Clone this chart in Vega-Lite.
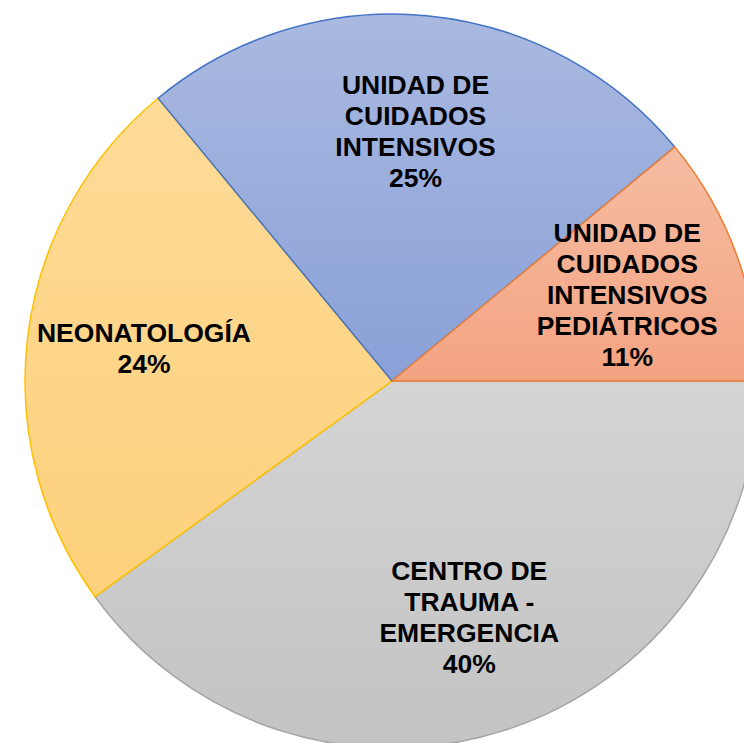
{
  "$schema": "https://vega.github.io/schema/vega-lite/v6.json",
  "width": 704,
  "height": 724,
  "autosize": {"type": "none"},
  "padding": {"left": 40, "top": 19, "right": 0, "bottom": 0},
  "background": "white",
  "view": {"stroke": null},
  "data": {
    "values": [
      {"area": "CENTRO DE\nTRAUMA -\nEMERGENCIA", "pct": 40, "orden": 1},
      {"area": "NEONATOLOGÍA", "pct": 24, "orden": 2},
      {"area": "UNIDAD DE\nCUIDADOS\nINTENSIVOS", "pct": 25, "orden": 3},
      {"area": "UNIDAD DE\nCUIDADOS\nINTENSIVOS\nPEDIÁTRICOS", "pct": 11, "orden": 4}
    ]
  },
  "transform": [
    {"calculate": "datum.area + '\\n' + datum.pct + '%'", "as": "label"}
  ],
  "encoding": {
    "theta": {"field": "pct", "type": "quantitative", "stack": true, "scale": {"range": [1.5707963, 7.8539816]}},
    "order": {"field": "orden", "type": "quantitative"}
  },
  "layer": [
    {
      "mark": {"type": "arc", "outerRadius": 367, "strokeWidth": 1.5},
      "encoding": {
        "fill": {
          "condition": [
            {"test": "datum.orden === 1", "value": {"gradient": "linear", "x1": 0, "y1": 0, "x2": 0, "y2": 1, "stops": [{"offset": 0, "color": "#d4d4d4"}, {"offset": 1, "color": "#c3c3c3"}]}},
            {"test": "datum.orden === 2", "value": {"gradient": "linear", "x1": 0, "y1": 0, "x2": 0, "y2": 1, "stops": [{"offset": 0, "color": "#fedb98"}, {"offset": 1, "color": "#fdd17c"}]}},
            {"test": "datum.orden === 3", "value": {"gradient": "linear", "x1": 0, "y1": 0, "x2": 0, "y2": 1, "stops": [{"offset": 0, "color": "#a9b9e0"}, {"offset": 1, "color": "#8aa1d8"}]}}
          ],
          "value": {"gradient": "linear", "x1": 0, "y1": 0, "x2": 0, "y2": 1, "stops": [{"offset": 0, "color": "#f5bda3"}, {"offset": 1, "color": "#f4a381"}]}
        },
        "stroke": {
          "field": "orden",
          "type": "nominal",
          "scale": {"domain": [1, 2, 3, 4], "range": ["#a5a5a5", "#ffc000", "#4472c4", "#ed7d31"]},
          "legend": null
        }
      }
    },
    {
      "mark": {
        "type": "text",
        "radius": 250,
        "font": "Liberation Sans",
        "fontWeight": "bold",
        "fontSize": 26.5,
        "lineBreak": "\n",
        "lineHeight": 31,
        "baseline": "middle",
        "align": "center",
        "color": "black",
        "dy": {"expr": "-(split(datum.label, '\\n').length - 1) * 15.5"}
      },
      "encoding": {"text": {"field": "label", "type": "nominal"}}
    }
  ]
}
